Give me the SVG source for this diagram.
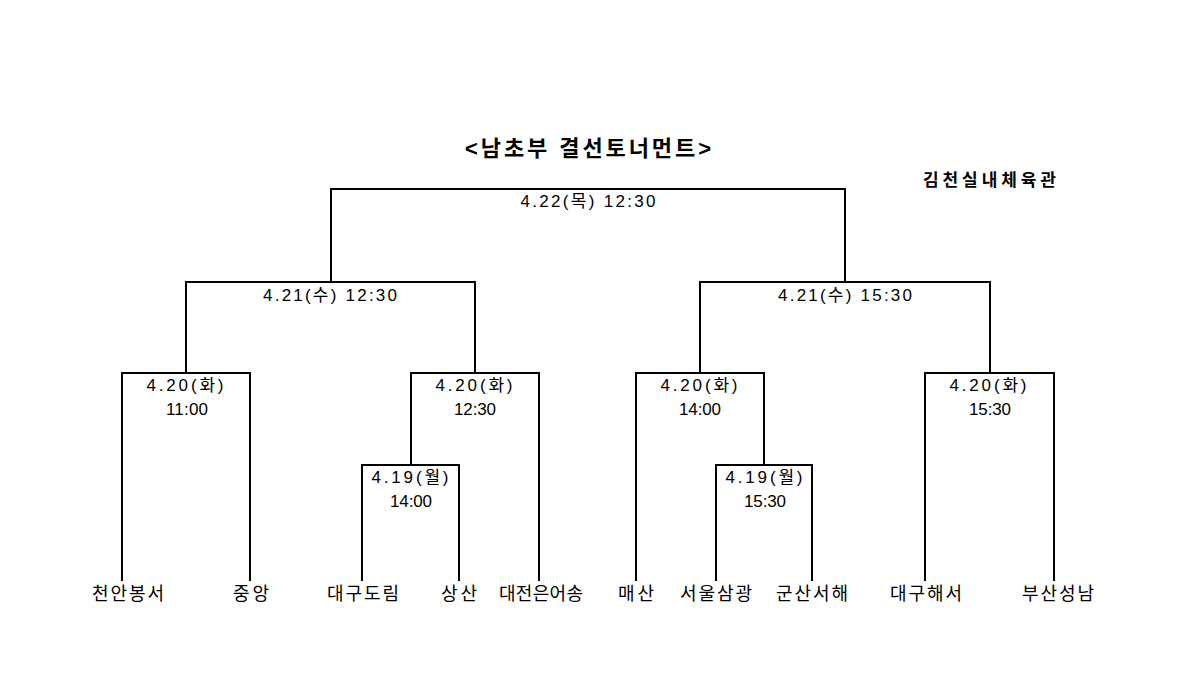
<svg xmlns="http://www.w3.org/2000/svg" width="1190" height="676" viewBox="0 0 1190 676">
<style>
.ln{fill:none;stroke:#000;stroke-width:2;stroke-linecap:square}
text{font-family:"Liberation Sans","Noto Sans CJK KR",sans-serif;fill:#000;text-anchor:middle}
.lb{font-size:17px}
.tm{font-size:18px}
.tt{font-size:22px;font-weight:bold}
.vn{font-size:17px;font-weight:bold}
</style>
<rect width="1190" height="676" fill="#fff"/>
<g id="title">
<text class="tt" x="588" y="156" textLength="246" lengthAdjust="spacing">&lt;남초부 결선토너먼트&gt;</text>
<text class="vn" x="989.5" y="186" textLength="133" lengthAdjust="spacing">김천실내체육관</text>
</g>
<g id="connectors">
<path class="ln" d="M331,282 V189 H845 V282"/>
<path class="ln" d="M186,373 V282 H475 V373"/>
<path class="ln" d="M700,373 V282 H990 V373"/>
<path class="ln" d="M122,580 V373 H250 V580"/>
<path class="ln" d="M411,465 V373 H539 V580"/>
<path class="ln" d="M636,580 V373 H764 V465"/>
<path class="ln" d="M925,580 V373 H1054 V580"/>
<path class="ln" d="M362,580 V465 H459 V580"/>
<path class="ln" d="M716,580 V465 H812 V580"/>
</g>
<g id="final">
<text class="lb" x="588" y="207" textLength="135" lengthAdjust="spacing">4.22(목) 12:30</text>
</g>
<g id="semi-left">
<text class="lb" x="330" y="301" textLength="134" lengthAdjust="spacing">4.21(수) 12:30</text>
</g>
<g id="semi-right">
<text class="lb" x="845" y="301" textLength="134" lengthAdjust="spacing">4.21(수) 15:30</text>
</g>
<g id="qf1">
<text class="lb" x="185" y="391" textLength="77" lengthAdjust="spacing">4.20(화)</text>
<text class="lb" x="187" y="415" textLength="42" lengthAdjust="spacing">11:00</text>
</g>
<g id="qf2">
<text class="lb" x="474" y="391" textLength="77" lengthAdjust="spacing">4.20(화)</text>
<text class="lb" x="475" y="415" textLength="42" lengthAdjust="spacing">12:30</text>
</g>
<g id="qf3">
<text class="lb" x="699" y="391" textLength="77" lengthAdjust="spacing">4.20(화)</text>
<text class="lb" x="700" y="415" textLength="42" lengthAdjust="spacing">14:00</text>
</g>
<g id="qf4">
<text class="lb" x="988" y="391" textLength="77" lengthAdjust="spacing">4.20(화)</text>
<text class="lb" x="990" y="415" textLength="42" lengthAdjust="spacing">15:30</text>
</g>
<g id="r1a">
<text class="lb" x="410" y="483" textLength="77" lengthAdjust="spacing">4.19(월)</text>
<text class="lb" x="411" y="507" textLength="42" lengthAdjust="spacing">14:00</text>
</g>
<g id="r1b">
<text class="lb" x="764" y="483" textLength="77" lengthAdjust="spacing">4.19(월)</text>
<text class="lb" x="765" y="507" textLength="42" lengthAdjust="spacing">15:30</text>
</g>
<g id="teams">
<text class="tm" x="128" y="600" textLength="72" lengthAdjust="spacing">천안봉서</text>
<text class="tm" x="251" y="600" textLength="36" lengthAdjust="spacing">중앙</text>
<text class="tm" x="363" y="600" textLength="72" lengthAdjust="spacing">대구도림</text>
<text class="tm" x="459" y="600" textLength="36" lengthAdjust="spacing">상산</text>
<text class="tm" x="541" y="600" textLength="84" lengthAdjust="spacing">대전은어송</text>
<text class="tm" x="636" y="600" textLength="36" lengthAdjust="spacing">매산</text>
<text class="tm" x="716" y="600" textLength="72" lengthAdjust="spacing">서울삼광</text>
<text class="tm" x="812" y="600" textLength="72" lengthAdjust="spacing">군산서해</text>
<text class="tm" x="926" y="600" textLength="72" lengthAdjust="spacing">대구해서</text>
<text class="tm" x="1058" y="600" textLength="72" lengthAdjust="spacing">부산성남</text>
</g>
</svg>
